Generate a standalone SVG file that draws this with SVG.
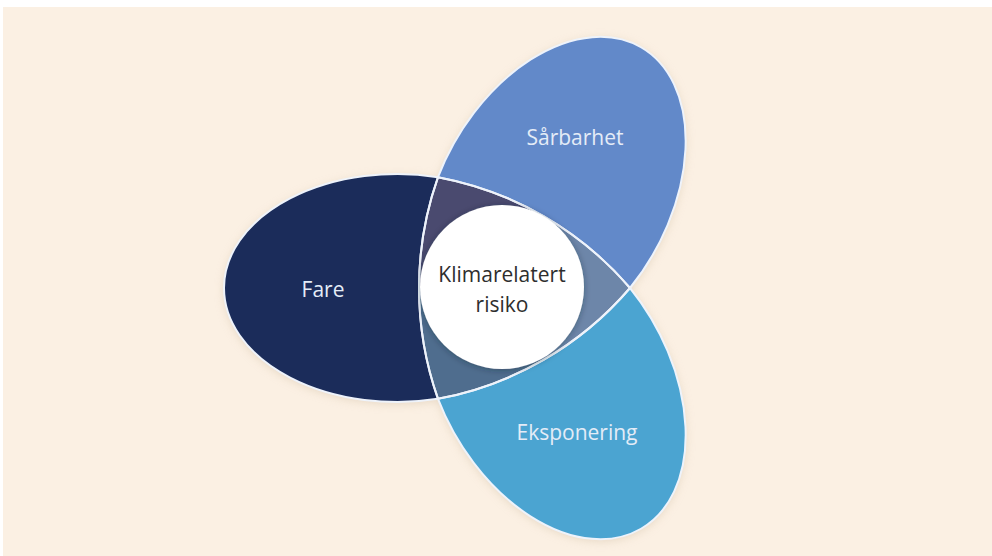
<svg xmlns="http://www.w3.org/2000/svg" xmlns:xlink="http://www.w3.org/1999/xlink" width="992" height="556" viewBox="0 0 992 556">
  <style>
    .outline { fill: none; stroke: #EEF3FB; stroke-width: 2; }
    .label { font-family: "Open Sans", "Noto Sans", "DejaVu Sans", sans-serif; font-size: 21px; text-anchor: middle; fill: #E4ECF7; }
    .center-label { font-family: "Open Sans", "Noto Sans", "DejaVu Sans", sans-serif; font-size: 21px; text-anchor: middle; fill: #2E2E2E; }
  </style>
  <defs>
    <path id="egg" d="M 438,177.15 A 333 333 0 0 1 630,288 A 333 333 0 0 1 438,398.85 A 173.5 114 0 1 1 438,177.15 Z"/>
    <clipPath id="clipFare"><use xlink:href="#egg"/></clipPath>
    <clipPath id="clipSar"><use xlink:href="#egg" transform="rotate(120 502 288)"/></clipPath>
    <clipPath id="clipEks"><use xlink:href="#egg" transform="rotate(240 502 288)"/></clipPath>
    <filter id="halo" x="-20%" y="-20%" width="140%" height="140%">
      <feGaussianBlur stdDeviation="5"/>
    </filter>
    <filter id="circleShadow" x="-30%" y="-30%" width="160%" height="160%">
      <feDropShadow dx="0" dy="1" stdDeviation="3" flood-color="#1a2030" flood-opacity="0.4"/>
    </filter>
  </defs>

  <rect x="0" y="0" width="992" height="556" fill="#FFFFFF"/>
  <rect x="3" y="7" width="989" height="549" fill="#FBF0E3"/>

  <!-- soft halo behind shapes -->
  <g filter="url(#halo)" fill="#D9C7B0" opacity="0.6">
    <use xlink:href="#egg" transform="translate(0 2)"/>
    <use xlink:href="#egg" transform="translate(0 2) rotate(120 502 288)"/>
    <use xlink:href="#egg" transform="translate(0 2) rotate(240 502 288)"/>
  </g>

  <g id="fare">
    <use xlink:href="#egg" fill="#1B2C5A"/>
    <text class="label" x="323" y="297" fill="#DCE2EE">Fare</text>
  </g>

  <g id="sarbarhet">
    <use xlink:href="#egg" transform="rotate(120 502 288)" fill="#6289C9"/>
    <text class="label" x="575" y="145">Sårbarhet</text>
  </g>

  <g id="eksponering">
    <use xlink:href="#egg" transform="rotate(240 502 288)" fill="#4BA4D1"/>
    <text class="label" x="577" y="440">Eksponering</text>
  </g>

  <!-- overlap region (inside all three shapes), coloured in three corners -->
  <g id="overlaps" clip-path="url(#clipFare)">
    <g clip-path="url(#clipSar)">
      <g clip-path="url(#clipEks)">
        <polygon points="502,288 102,288 702,-58.4" fill="#4A4A6F"/>
        <polygon points="502,288 702,634.4 102,288" fill="#4F6D8E"/>
        <polygon points="502,288 702,-58.4 702,634.4" fill="#6D86A9"/>
      </g>
    </g>
  </g>

  <!-- outlines -->
  <g id="outlines">
    <use xlink:href="#egg" class="outline"/>
    <use xlink:href="#egg" class="outline" transform="rotate(120 502 288)"/>
    <use xlink:href="#egg" class="outline" transform="rotate(240 502 288)"/>
  </g>

  <g id="connectors"/>

  <g id="klimarelatert-risiko">
    <circle cx="502" cy="287" r="82" fill="#FFFFFF" filter="url(#circleShadow)"/>
    <text class="center-label" x="502" y="282">Klimarelatert</text>
    <text class="center-label" x="502" y="312">risiko</text>
  </g>
</svg>
